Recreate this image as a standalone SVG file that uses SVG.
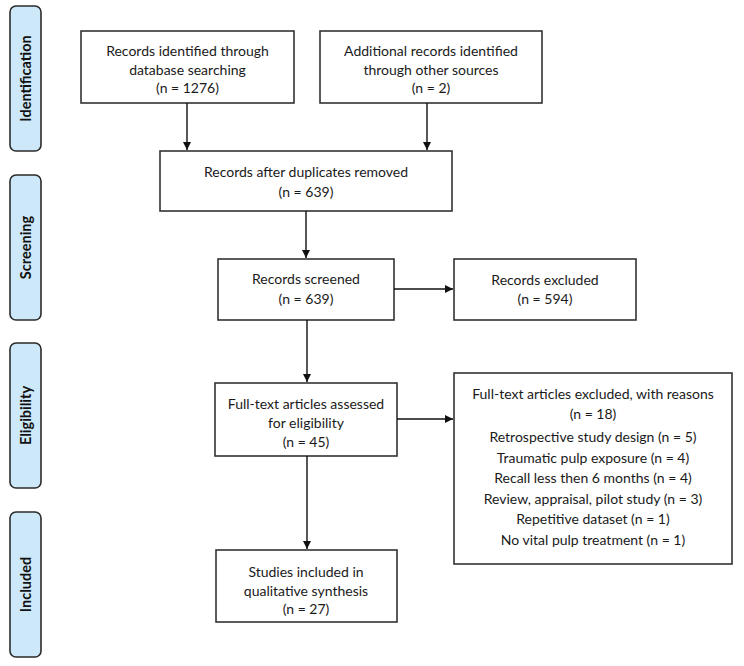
<svg xmlns="http://www.w3.org/2000/svg" width="744" height="666" viewBox="0 0 744 666">
<defs>
<marker id="ah" markerWidth="8" markerHeight="8" refX="8" refY="4" orient="auto" markerUnits="userSpaceOnUse">
<path d="M0,0 L8,4 L0,8 Z" fill="#111"/>
</marker>
<style>
.phase rect{fill:#cde9f9;stroke:#2b2b2b;stroke-width:1.6}
.phase text{font-family:Lato,"Liberation Sans",sans-serif;font-weight:bold;font-size:14.5px;fill:#111;text-anchor:middle;dominant-baseline:central}
.box rect{fill:#fff;stroke:#333;stroke-width:1.6}
.box text{font-family:Lato,"Liberation Sans",sans-serif;font-size:14px;fill:#1a1a1a;text-anchor:middle;dominant-baseline:central}
#connectors line{stroke:#111;stroke-width:1.4;marker-end:url(#ah)}
</style>
</defs>
<rect width="744" height="666" fill="#fff"/>

<g id="phase-identification" class="phase"><rect x="10" y="6" width="31" height="145" rx="6"/><text transform="translate(25.5,78.5) rotate(-90)">Identification</text></g>
<g id="phase-screening" class="phase"><rect x="10" y="175" width="31" height="145" rx="6"/><text transform="translate(25.5,247.5) rotate(-90)">Screening</text></g>
<g id="phase-eligibility" class="phase"><rect x="10" y="343" width="31" height="145" rx="6"/><text transform="translate(25.5,415.5) rotate(-90)">Eligibility</text></g>
<g id="phase-included" class="phase"><rect x="10" y="512" width="31" height="145" rx="6"/><text transform="translate(25.5,584.5) rotate(-90)">Included</text></g>

<g id="box-db" class="box"><rect x="81" y="31" width="213" height="72"/>
<text x="187.5" y="50">Records identified through</text><text x="187.5" y="69">database searching</text><text x="187.5" y="87">(n = 1276)</text></g>
<g id="box-other" class="box"><rect x="320" y="31" width="222" height="72"/>
<text x="431" y="50">Additional records identified</text><text x="431" y="69">through other sources</text><text x="431" y="87">(n = 2)</text></g>
<g id="box-dedup" class="box"><rect x="160" y="151" width="292" height="60"/>
<text x="306" y="171">Records after duplicates removed</text><text x="306" y="191">(n = 639)</text></g>
<g id="box-screened" class="box"><rect x="218" y="259" width="176" height="61"/>
<text x="306" y="278">Records screened</text><text x="306" y="298">(n = 639)</text></g>
<g id="box-excluded" class="box"><rect x="454" y="259" width="182" height="61"/>
<text x="545" y="279">Records excluded</text><text x="545" y="298">(n = 594)</text></g>
<g id="box-fulltext" class="box"><rect x="215" y="383" width="182" height="73"/>
<text x="306" y="403">Full-text articles assessed</text><text x="306" y="422">for eligibility</text><text x="306" y="441">(n = 45)</text></g>
<g id="box-ftexcluded" class="box"><rect x="454" y="373" width="278" height="191"/>
<text x="593" y="393">Full-text articles excluded, with reasons</text><text x="593" y="413">(n = 18)</text>
<text x="593" y="436">Retrospective study design (n = 5)</text>
<text x="593" y="457">Traumatic pulp exposure (n = 4)</text>
<text x="593" y="477">Recall less then 6 months (n = 4)</text>
<text x="593" y="498">Review, appraisal, pilot study (n = 3)</text>
<text x="593" y="518">Repetitive dataset (n = 1)</text>
<text x="593" y="539">No vital pulp treatment (n = 1)</text></g>
<g id="box-included" class="box"><rect x="216" y="550" width="181" height="72"/>
<text x="306" y="571">Studies included in</text><text x="306" y="590">qualitative synthesis</text><text x="306" y="608">(n = 27)</text></g>

<g id="connectors">
<line x1="187" y1="103" x2="187" y2="150"/>
<line x1="427" y1="103" x2="427" y2="150"/>
<line x1="306" y1="211" x2="306" y2="258"/>
<line x1="394" y1="289" x2="453" y2="289"/>
<line x1="307" y1="320" x2="307" y2="382"/>
<line x1="397" y1="419" x2="453" y2="419"/>
<line x1="307" y1="456" x2="307" y2="549"/>
</g>
</svg>
